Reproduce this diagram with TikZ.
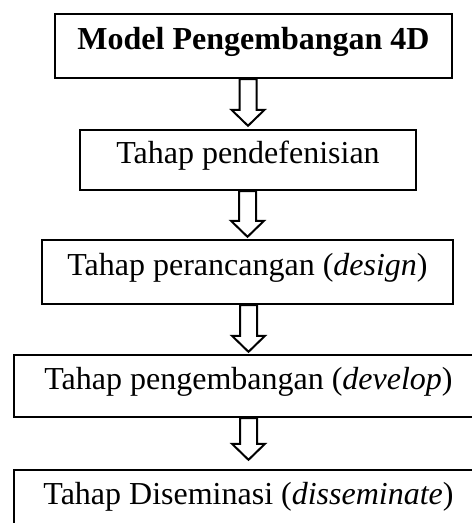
\documentclass[tikz,border=0pt]{standalone}
\usepackage{fontspec}
\setmainfont{Liberation Serif}
\usetikzlibrary{calc}
\tikzset{
  box/.style={draw,line width=2.4pt,font=\fontsize{32}{38}\selectfont,text height=0.72em,text depth=0pt},
  blockline/.style={line width=2pt,fill=white,line join=miter}
}
% hollow arrow from the bottom of #1 to the top of #2, tip #3 above it
\newcommand{\blockarrow}[3]{%
  \draw[blockline] ($(#2.north |- #1.south)+(-8.5,0)$) -- ($(#2.north)+(-8.5,-16-#3)$)
    -- ($(#2.north)+(-16.5,-16-#3)$) -- ($(#2.north)+(0,-#3)$) -- ($(#2.north)+(16.5,-16-#3)$)
    -- ($(#2.north)+(8.5,-16-#3)$) -- ($(#2.north |- #1.south)+(8.5,0)$) -- cycle;}
\begin{document}
\begin{tikzpicture}[x=1pt,y=-1pt]
    \useasboundingbox (0,0) rectangle (472,523);
    \clip (0,0) rectangle (472,523);
    \node[box,font=\fontsize{32}{38}\selectfont\bfseries,minimum width=397,minimum height=64] (model) at (253.5,46) {Model Pengembangan 4D};
    \node[box,minimum width=336,minimum height=60] (define) at (248,160) {Tahap pendefenisian};
    \node[box,minimum width=411,minimum height=64] (design) at (247.5,272) {Tahap perancangan (\textit{design})};
    \node[box,minimum width=469,minimum height=62] (develop) at (248.5,386) {Tahap pengembangan (\textit{develop})};
    \node[box,minimum width=469,minimum height=62] (disseminate) at (248.5,501) {Tahap Diseminasi (\textit{disseminate})};
    \blockarrow{model}{define}{3}
    \blockarrow{define}{design}{2}
    \blockarrow{design}{develop}{2}
    \blockarrow{develop}{disseminate}{9}
\end{tikzpicture}
\end{document}
